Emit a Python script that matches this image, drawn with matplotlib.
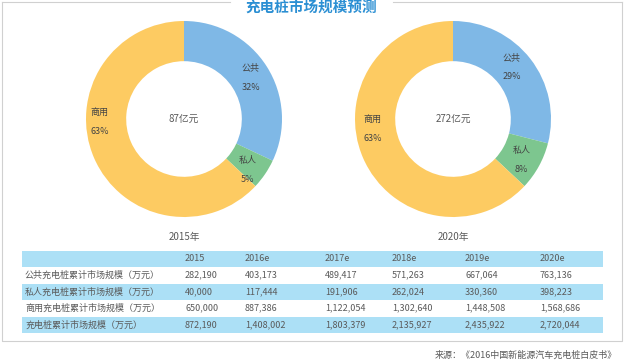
import matplotlib
matplotlib.use("Agg")
import matplotlib.pyplot as plt
from matplotlib.patches import Rectangle

plt.rcParams['font.family'] = ['Noto Sans CJK SC', 'DejaVu Sans']

# ---- data ----
title = "充电桩市场规模预测"
segments = ["公共", "私人", "商用"]
share_2015 = [32, 5, 63]
share_2020 = [29, 8, 63]
total_2015 = "87亿元"
total_2020 = "272亿元"
pie_titles = ["2015年", "2020年"]

col_headers = ["2015", "2016e", "2017e", "2018e", "2019e", "2020e"]
row_labels = ["公共充电桩累计市场规模（万元）",
              "私人充电桩累计市场规模（万元）",
              "商用充电桩累计市场规模（万元）",
              "充电桩累计市场规模（万元）"]
public_vals = [282190, 403173, 489417, 571263, 667064, 763136]
private_vals = [40000, 117444, 191906, 262024, 330360, 398223]
commercial_vals = [650000, 887386, 1122054, 1302640, 1448508, 1568686]
total_vals = [872190, 1408002, 1803379, 2135927, 2435922, 2720044]
source = "来源：《2016中国新能源汽车充电桩白皮书》"

# ---- styles ----
W, H = 625, 364
colors = ["#7fb8e6", "#7dc68f", "#fdcb62"]
band = "#ace0f6"
txt = "#5a5a5a"

fig = plt.figure(figsize=(W / 100, H / 100), dpi=100)
fig.patch.set_facecolor("white")

# overlay axes in pixel coordinates (y down)
ov = fig.add_axes([0, 0, 1, 1])
ov.set_xlim(0, W)
ov.set_ylim(H, 0)
ov.axis("off")

# frame
ov.plot([2, 2, 622, 622], [2, 341, 341, 2], color="#d0d0d0", lw=0.8)
ov.plot([2, 230], [2, 2], color="#d0d0d0", lw=0.8)
ov.plot([393, 622], [2, 2], color="#d0d0d0", lw=0.8)
ov.text(311, 8, title, ha="center", va="center", fontsize=10.5,
        fontweight="bold", color="#2b8fd3")


def donut(cx, cy, r, vals, total, year, lab_pos):
    ax = fig.add_axes([(cx - r) / W, (H - cy - r) / H, 2 * r / W, 2 * r / H])
    ax.pie(vals, colors=colors, startangle=90, counterclock=False,
           radius=1.0, wedgeprops=dict(width=0.41, edgecolor="none"))
    ax.set_xlim(-1, 1)
    ax.set_ylim(-1, 1)
    ax.set_aspect("equal")
    ax.axis("off")
    ax.text(0, 0, total, ha="center", va="center", fontsize=7, color=txt)
    for name, v, (lx, ly) in zip(segments, vals, lab_pos):
        ax.text(lx, ly, name, ha="center", va="center", fontsize=6.5, color="#444444")
        ax.text(lx, ly - 0.2, f"{v}%", ha="center", va="center", fontsize=6.5, color="#444444")
    ov.text(cx, 237, year, ha="center", va="center", fontsize=7, color=txt)


donut(184, 119, 98, share_2015, total_2015, pie_titles[0],
      [(0.68, 0.52), (0.65, -0.42), (-0.86, 0.07)])
donut(453, 119, 98, share_2020, total_2020, pie_titles[1],
      [(0.6, 0.63), (0.7, -0.32), (-0.82, 0.0)])

# table
x0, x1 = 22, 603
row_top = 251
rh = 16.5
col_x = [185, 245, 325, 392, 465, 540]
rows = [public_vals, private_vals, commercial_vals, total_vals]

for i in range(5):
    y = row_top + i * rh
    if i in (0, 2, 4):
        ov.add_patch(Rectangle((x0, y), x1 - x0, rh - 1, facecolor=band,
                               edgecolor="none"))
ov.add_patch(Rectangle((x0, row_top + rh * 4 + rh - 1), x1 - x0, 0.8,
                       facecolor="#d8eef9", edgecolor="none"))

yc = row_top + rh / 2 - 0.5
for cx, h in zip(col_x, col_headers):
    ov.text(cx, yc, h, ha="left", va="center", fontsize=6.5, color=txt)
for r, (lab, vals) in enumerate(zip(row_labels, rows)):
    yc = row_top + (r + 1) * rh + rh / 2 - 0.5
    ov.text(25, yc, lab, ha="left", va="center", fontsize=6.5, color=txt)
    for cx, v in zip(col_x, vals):
        ov.text(cx, yc, f"{v:,}", ha="left", va="center", fontsize=6.5, color=txt)

ov.text(617, 355, source, ha="right", va="center", fontsize=6.5, color=txt)

fig.savefig("out.png", dpi=100, facecolor="white")
